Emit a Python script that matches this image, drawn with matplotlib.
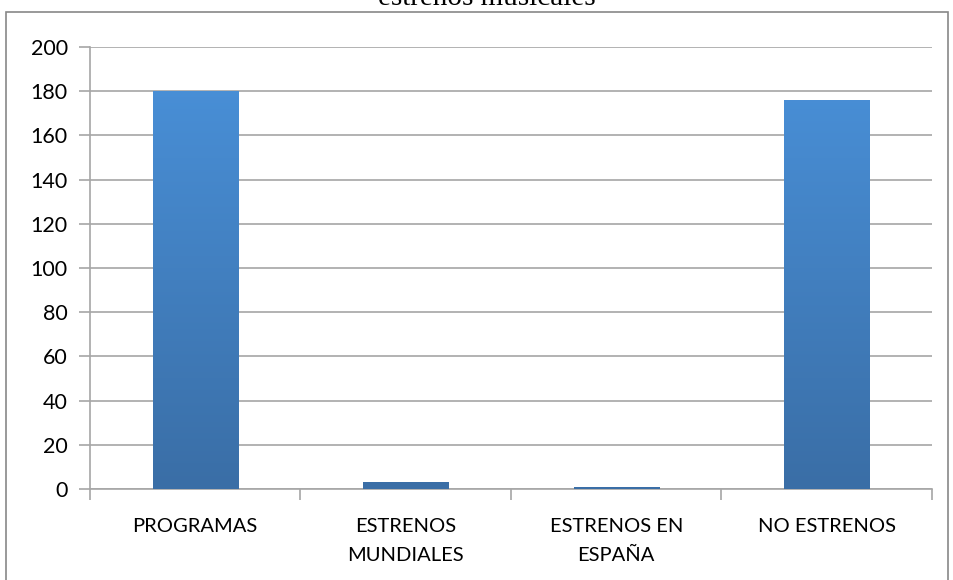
import matplotlib
matplotlib.use("Agg")
import matplotlib.pyplot as plt
import numpy as np
from matplotlib.patches import Rectangle
from matplotlib.colors import LinearSegmentedColormap

categories = ["PROGRAMAS", "ESTRENOS\nMUNDIALES", "ESTRENOS EN\nESPAÑA", "NO ESTRENOS"]
values = [180, 3, 1, 176]
yticks = [0, 20, 40, 60, 80, 100, 120, 140, 160, 180, 200]
title = "estrenos musicales"

plt.rcParams['font.family'] = ['Lato', 'DejaVu Sans']

fig = plt.figure(figsize=(9.54, 5.8), dpi=100)
ax = fig.add_axes([90/954, 1-489/580, (932-90)/954, (489-47)/580])

x = np.arange(len(categories))
width = 0.405
cmap = LinearSegmentedColormap.from_list("g", ["#3A6EA6", "#4A92DB"])
grad = np.linspace(0, 1, 256).reshape(-1, 1)
bars = ax.bar(x, values, width=width, color="none", edgecolor="none", zorder=3)
for b in bars:
    x0, y0 = b.get_x(), b.get_y()
    w, h = b.get_width(), b.get_height()
    im = ax.imshow(grad, extent=[x0, x0 + w, 0, 200], origin="lower", cmap=cmap,
                   aspect="auto", zorder=3)
    clip = Rectangle((x0, y0), w, h, transform=ax.transData)
    im.set_clip_path(clip)

ax.set_xlim(-0.5, len(categories) - 0.5)
ax.set_ylim(0, 200)
ax.set_yticks(yticks)
ax.set_yticklabels([str(t) for t in yticks], fontsize=15.5)
ax.set_xticks(x)
ax.set_xticklabels(categories, fontsize=14.5, linespacing=1.85)
ax.set_xticks(np.arange(len(categories) + 1) - 0.5, minor=True)
ax.tick_params(axis='x', which='major', length=0, pad=21)
ax.tick_params(axis='x', which='minor', length=8, color="#A6A6A6", width=1.2)
ax.tick_params(axis='y', length=8, color="#A6A6A6", width=1.2, pad=8)
ax.yaxis.grid(True, color="#A6A6A6", linewidth=1.2, zorder=0)
ax.set_axisbelow(True)
for s in ['top', 'right']:
    ax.spines[s].set_visible(False)
for s in ['left', 'bottom']:
    ax.spines[s].set_color("#A6A6A6")
    ax.spines[s].set_linewidth(1.2)

# outer chart border
fig.patches.append(Rectangle((6/954, -0.01), (948-6)/954, 1 - 12/580 + 0.01,
                             transform=fig.transFigure, fill=False,
                             edgecolor="#888888", linewidth=1.2))
fig.text(487/954, 1 - 5/580, title, ha="center", va="baseline",
         fontsize=21, family=["Liberation Serif", "DejaVu Serif"])

fig.savefig("out.png", dpi=100)
